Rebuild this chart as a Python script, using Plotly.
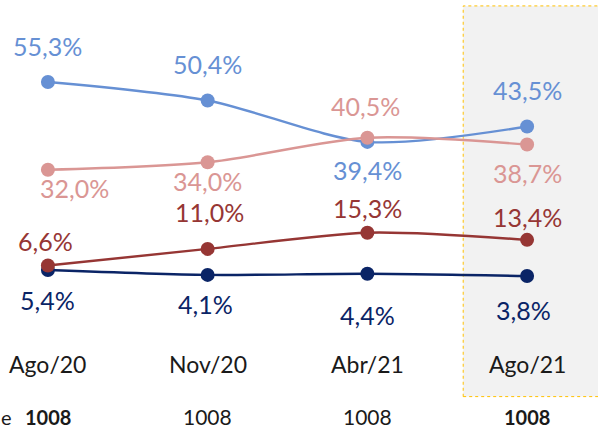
import plotly.graph_objects as go

# Survey waves and results (%)
categories = ["Ago/20", "Nov/20", "Abr/21", "Ago/21"]
base_sizes = ["1008", "1008", "1008", "1008"]
serie_azul = [55.3, 50.4, 39.4, 43.5]
serie_rosa = [32.0, 34.0, 40.5, 38.7]
serie_vermelha = [6.6, 11.0, 15.3, 13.4]
serie_marinho = [5.4, 4.1, 4.4, 3.8]

FONT = "Lato, 'Open Sans', sans-serif"
x = list(range(len(categories)))

series = [
    # values, color, label vertical shifts (px), label x shifts (px)
    (serie_azul, "#6690d4", [36, 36, -28, 36], [0, 0, 0, 0]),
    (serie_rosa, "#da9694", [-18, -19, 32, -28], [27, 0, -2, 0]),
    (serie_marinho, "#0a2466", [-30, -29, -41, -34], [0, -2, 0, -4]),
    (serie_vermelha, "#963634", [24, 37, 25, 23], [-2, 2, 0, 0]),
]

fig = go.Figure()

# Highlight for the latest wave
fig.add_shape(type="rect", xref="x", yref="y",
              x0=2.6, x1=3.6, y0=-28.2, y1=75.5,
              fillcolor="#f2f2f2", line=dict(color="#ffc000", width=1, dash="dot"),
              layer="below")

for vals, color, dys, dxs in series:
    fig.add_trace(go.Scatter(
        x=x, y=vals, mode="lines+markers",
        line=dict(color=color, width=2.4, shape="spline", smoothing=0.8),
        marker=dict(color=color, size=14),
        showlegend=False, hoverinfo="skip"))
    for xi, v, dy, dx in zip(x, vals, dys, dxs):
        fig.add_annotation(x=xi, y=v, xref="x", yref="y",
                           text=f"{v:.1f}%".replace(".", ","),
                           showarrow=False, yshift=dy, xshift=dx,
                           font=dict(family=FONT, size=25, color=color))

# Category labels and sample sizes
for i, (cat, n) in enumerate(zip(categories, base_sizes)):
    fig.add_annotation(x=i, y=-19.6, xref="x", yref="y", text=cat,
                       showarrow=False, font=dict(family=FONT, size=23, color="#1a1a1a"))
    bold = i in (0, len(categories) - 1)
    fig.add_annotation(x=i, y=-33.6, xref="x", yref="y",
                       text=f"<b>{n}</b>" if bold else n,
                       showarrow=False, font=dict(family=FONT, size=20 if bold else 21,
                                                  color="#1a1a1a"))

# Row caption at the left edge
fig.add_annotation(x=-0.21, y=-33.6, xref="x", yref="y", text="e",
                   xanchor="right", showarrow=False,
                   font=dict(family=FONT, size=20, color="#1a1a1a"))

fig.update_layout(
    width=598, height=429,
    margin=dict(l=0, r=0, t=0, b=0),
    paper_bgcolor="white", plot_bgcolor="white",
    xaxis=dict(range=[-0.3, 3.444], visible=False, fixedrange=True),
    yaxis=dict(range=[-36.8, 77.07], visible=False, fixedrange=True),
)

fig.write_html("out.html")
